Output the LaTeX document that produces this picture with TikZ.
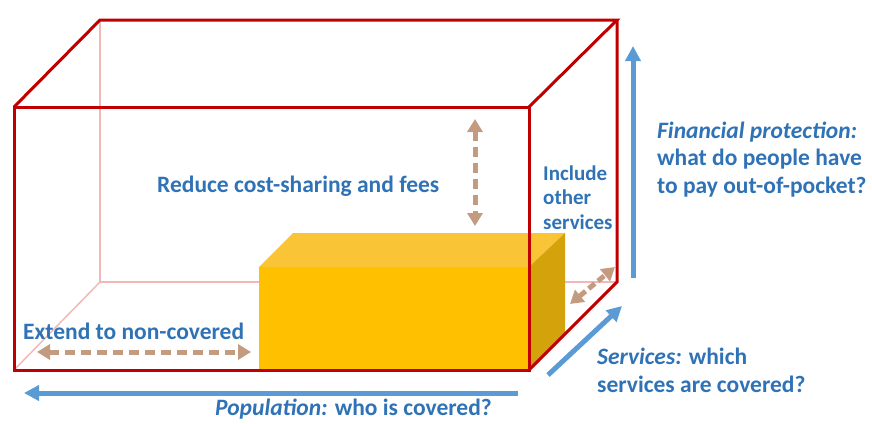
\documentclass[tikz,border=0pt]{standalone}
\usepackage{fontspec}
\setmainfont{Carlito}
\usetikzlibrary{arrows.meta}
\definecolor{boxred}{HTML}{C00000}
\definecolor{boxpink}{HTML}{F2B8B8}
\definecolor{yfront}{HTML}{FFC000}
\definecolor{ytop}{HTML}{F9C435}
\definecolor{yside}{HTML}{D4A20A}
\definecolor{arrblue}{HTML}{5B9BD5}
\definecolor{txtblue}{HTML}{2F72B5}
\definecolor{tan}{HTML}{C39B80}
\tikzset{
  redline/.style={draw=boxred, line width=3pt, line join=miter},
  pinkline/.style={draw=boxpink, line width=1.5pt},
  bluearrow/.style={draw=arrblue, line width=5pt, -{Triangle[width=15pt,length=15pt]}},
  tanarrow/.style={draw=tan, line width=5pt, dash pattern=on 10pt off 6pt,
     {Triangle[width=15pt,length=13pt]}-{Triangle[width=15pt,length=13pt]}},
  lbl/.style={text=txtblue, font=\bfseries\fontsize{23.5}{28}\selectfont, inner sep=0pt, anchor=base west},
  lblsmall/.style={text=txtblue, font=\bfseries\fontsize{21}{24}\selectfont, inner sep=0pt, anchor=base west}
}
\begin{document}
\begin{tikzpicture}[x=1pt,y=-1pt]
\useasboundingbox (0,0) rectangle (872,423);
% box corners
\coordinate (FTL) at (14,107);
\coordinate (FTR) at (529,107);
\coordinate (FBL) at (14,370);
\coordinate (FBR) at (529,370);
\coordinate (BTL) at (100,20);
\coordinate (BTR) at (617,20);
\coordinate (BBL) at (100,282);
\coordinate (BBR) at (617,282);
% hidden (back) edges
\draw[pinkline] (BTL) -- (BBL) -- (BBR);
\draw[pinkline] (FBL) -- (BBL);
% yellow block
\coordinate (YFTL) at (259,267);
\coordinate (YFTR) at (529,267);
\coordinate (YBTL) at (293,233);
\coordinate (YBTR) at (565,233);
\coordinate (YBBR) at (565,334);
\fill[yfront] (YFTL) rectangle (FBR);
\fill[ytop] (YFTL) -- (YBTL) -- (YBTR) -- (YFTR) -- cycle;
\fill[yside] (YFTR) -- (YBTR) -- (YBBR) -- (FBR) -- cycle;
% visible edges
\draw[redline] (FTL) rectangle (FBR);
\draw[redline] (FTL) -- (BTL) -- (BTR) -- (FTR);
\draw[redline] (BTR) -- (BBR) -- (FBR);
% blue axes
\coordinate (popS) at (518,393);
\coordinate (popE) at (24,393);
\coordinate (finS) at (633,278);
\coordinate (finE) at (633,46);
\coordinate (srvS) at (548,375);
\coordinate (srvE) at (622,306);
\draw[bluearrow] (popS) -- (popE);
\draw[bluearrow] (finS) -- (finE);
\draw[bluearrow] (srvS) -- (srvE);
% tan arrows
\coordinate (costA) at (475,119);
\coordinate (costB) at (475,226);
\coordinate (extA) at (37,352);
\coordinate (extB) at (251,352);
\coordinate (svA) at (570,304);
\coordinate (svB) at (615,267);
\draw[tanarrow] (costA) -- (costB);
\draw[tanarrow] (extA) -- (extB);
\draw[tanarrow, dash pattern=on 8pt off 4pt] (svA) -- (svB);
% labels
\node[lbl] (reduce) at (157,192) {Reduce cost-sharing and fees};
\node[lblsmall] (inc1) at (543,180) {Include};
\node[lblsmall] (inc2) at (543,204) {other};
\node[lblsmall] (inc3) at (543,229) {services};
\node[lbl] (fin1) at (657,138) {\itshape Financial protection:};
\node[lbl] (fin2) at (657,165) {what do people have};
\node[lbl] (fin3) at (657,193) {to pay out-of-pocket?};
\node[lbl] (ext) at (23,339) {Extend to non-covered};
\node[lbl] (pop) at (215,415) {\textit{Population:} who is covered?};
\node[lbl] (srv1) at (597,364) {\textit{Services:} which};
\node[lbl] (srv2) at (597,392) {services are covered?};
\end{tikzpicture}
\end{document}
